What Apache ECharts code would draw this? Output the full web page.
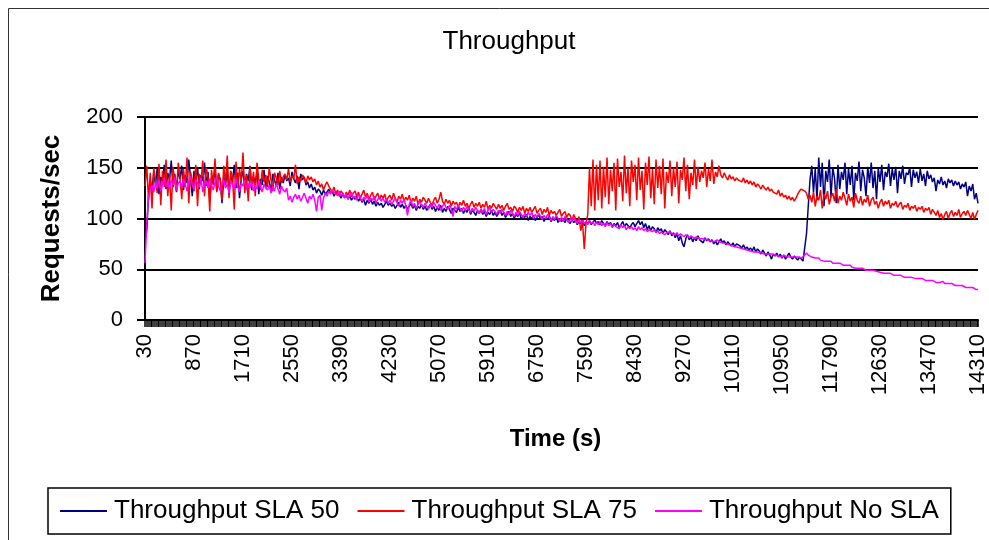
<!DOCTYPE html>
<html><head><meta charset="utf-8">
<script src="https://cdn.jsdelivr.net/npm/echarts@6/dist/echarts.min.js"></script>
<style>html,body{margin:0;padding:0;background:#fff}#c{width:989px;height:540px}</style>
</head><body><div id="c"></div>
<script>
const startTime = 30, stepTime = 30;
const seriesNames = ['Throughput SLA 50','Throughput SLA 75','Throughput No SLA'];
const yTicks = [0,50,100,150,200];

const sla50 = [
80,88,122,138,127,146,133,150,124,141,136,153,129,145,138,157,131,144,126,148,
139,152,128,143,135,158,141,122,147,136,151,129,143,137,155,132,146,118,140,134,
150,127,144,138,115,141,133,149,126,142,136,153,130,145,120,139,147,131,144,137,
152,128,141,135,146,124,139,133,148,130,142,136,127,144,138,132,145,129,141,135,
143,137,140,132,146,139,135,142,129,144,138,141,133,136,130,134,128,131,125,129,
127,123,128,124,126,129,125,127,122,126,123,125,120,124,121,123,119,122,118,121,
119,122,117,120,116,119,113,118,115,119,114,117,112,116,113,115,111,114,117,113,
115,112,114,110,113,116,111,114,110,113,109,112,115,110,113,108,112,110,114,109,
112,108,111,114,109,112,107,111,108,113,106,110,107,112,109,105,110,108,106,111,
107,110,105,109,106,111,104,108,106,103,108,105,109,104,107,102,106,104,108,103,
106,102,105,108,103,106,101,104,107,102,105,100,104,102,106,99,103,101,104,98,
102,100,103,98,101,104,99,102,97,101,99,103,97,100,98,102,96,100,97,99,
96,100,97,95,99,96,98,94,97,95,99,93,97,95,98,94,96,99,95,97,
94,98,95,93,97,94,96,92,95,93,96,91,94,97,92,95,93,91,94,96,
92,95,98,94,97,91,95,89,93,88,92,90,86,91,88,90,85,89,87,84,
88,83,86,81,85,78,83,76,72,80,84,79,82,77,81,78,83,79,80,76,
81,78,80,77,79,75,78,74,77,80,76,78,74,77,75,73,76,72,75,74,
73,71,74,70,72,69,71,68,72,67,70,68,65,69,66,63,67,64,60,65,
63,66,62,65,61,64,60,63,66,62,60,63,61,59,62,60,58,58,85,112,
138,152,126,149,118,160,131,155,112,147,136,158,121,150,140,115,153,129,146,138,
155,124,149,133,152,118,145,137,156,127,148,140,122,151,135,155,130,147,119,150,
136,153,128,146,141,154,132,149,138,151,125,147,139,152,134,145,143,150,131,148,
140,146,135,149,137,144,132,147,139,143,136,140,127,138,134,141,133,137,130,139,
135,138,132,137,133,136,129,134,131,136,122,132,127,134,119,125,115
];

const sla75 = [
132,152,118,145,110,150,137,125,154,113,147,131,158,122,143,108,151,136,127,155,
140,119,149,131,160,115,146,138,127,153,112,144,135,157,122,150,141,107,148,133,
159,126,145,138,118,152,134,162,120,147,141,109,156,130,149,137,165,125,143,117,
151,133,146,122,155,139,128,148,136,143,131,150,138,127,145,140,133,147,135,141,
144,138,149,136,142,139,153,134,141,137,143,140,135,142,138,141,136,139,133,137,
131,134,128,133,136,132,129,126,131,124,128,122,127,125,120,126,123,128,121,125,
127,122,126,120,124,128,121,125,119,123,126,118,122,125,119,123,120,124,117,121,
123,118,125,120,116,122,119,124,117,121,118,123,115,120,117,122,114,119,116,121,
118,115,120,116,113,118,121,115,119,126,117,114,119,115,118,112,117,114,116,111,
116,113,118,112,115,110,114,117,111,115,112,116,110,114,111,117,109,113,110,115,
112,109,114,110,113,108,112,115,109,111,107,112,110,106,111,108,112,105,110,107,
111,106,109,112,105,108,110,104,109,106,111,103,108,105,107,103,106,109,102,105,
107,101,105,103,98,104,100,96,102,88,97,70,95,104,150,112,158,108,153,118,
157,110,151,121,160,114,148,127,155,108,159,131,146,117,162,125,150,112,157,136,
153,118,160,128,147,109,155,133,161,120,149,114,158,130,152,124,159,110,146,135,
157,122,150,131,156,115,148,138,160,127,153,119,145,133,158,129,151,136,147,140,
155,131,149,137,158,134,146,141,152,143,140,145,141,138,143,139,141,137,140,138,
139,136,140,135,138,134,137,133,136,131,134,132,129,133,130,128,131,127,129,126,
127,124,128,122,125,121,123,119,122,118,121,117,120,124,127,129,128,127,125,119,
123,116,126,112,122,118,128,110,124,119,127,114,121,125,117,129,115,122,118,126,
120,113,124,117,121,111,125,118,115,122,113,119,116,123,112,118,121,114,117,110,
116,119,112,117,114,118,110,115,113,117,111,114,116,109,113,111,115,108,112,110,
113,107,111,109,112,106,110,108,111,104,109,106,103,108,101,105,99,104,107,100,
105,108,102,106,103,109,101,105,107,103,108,104,100,106,99,104,108
];

const noSla = [
56,96,121,128,133,126,135,130,138,127,134,140,131,136,129,138,133,141,128,135,
137,130,139,134,127,136,142,133,129,138,135,131,140,126,134,137,130,139,133,128,
136,141,132,127,135,138,130,134,125,137,133,129,139,131,126,135,132,138,128,134,
130,136,127,133,129,137,131,126,134,130,128,133,125,131,127,135,129,124,132,128,
126,130,118,122,116,121,124,119,123,117,121,125,120,115,122,119,124,118,107,121,
123,108,120,125,122,127,124,128,125,126,123,127,122,125,121,124,119,123,126,120,
122,118,124,120,117,121,119,123,116,120,118,122,115,119,121,117,120,116,119,115,
118,114,117,120,116,112,118,115,119,113,103,114,118,112,115,110,114,117,113,111,
115,112,109,114,111,116,113,110,114,108,112,115,111,109,113,110,102,112,109,113,
110,107,111,108,112,109,106,110,107,111,108,105,109,106,110,104,108,111,106,109,
107,104,108,105,109,106,103,107,104,108,105,102,106,103,107,104,101,105,102,106,
103,106,100,104,101,105,102,99,103,100,104,101,98,102,99,103,100,97,101,98,
102,99,96,100,97,101,98,95,99,96,98,95,97,94,98,95,97,93,96,94,
97,93,95,92,96,93,95,91,94,92,93,90,94,91,93,89,92,90,92,89,
91,88,92,89,91,88,90,87,89,88,87,89,86,88,85,87,86,84,86,85,
87,85,86,84,86,83,85,84,82,84,83,81,83,82,80,82,81,80,81,80,
80,79,80,78,79,77,78,79,77,78,76,77,75,76,74,75,73,74,72,73,
71,72,70,71,69,70,68,69,67,68,67,68,66,67,65,66,65,64,65,64,
64,65,63,64,62,64,63,62,63,62,61,62,61,62,63,61,62,64,66,64,
63,62,63,61,60,61,59,60,58,59,58,57,58,56,57,56,55,56,55,54,
55,54,53,54,52,53,51,52,51,50,51,50,49,50,49,48,49,48,48,47,
47,48,46,47,46,45,46,45,44,45,44,43,44,43,42,43,42,41,42,41,
41,42,41,40,41,40,39,40,39,38,39,38,37,38,37,37,38,36,37,36,
35,36,35,34,35,34,33,34,33,32,33,32,31,32,31,30,30
];

const times = [];
for (let i = 0; i < sla50.length; i++) times.push(String(startTime + i * stepTime));

const FONT = '"Liberation Sans", Arial, sans-serif';
const chart = echarts.init(document.getElementById('c'), null, {renderer: 'canvas'});
chart.setOption({
  animation: false,
  backgroundColor: '#fff',
  title: {
    text: 'Throughput', left: 504, top: 24, textAlign: 'center',
    textStyle: {fontFamily: FONT, fontSize: 26, fontWeight: 'normal', color: '#000'}
  },
  graphic: [{
    type: 'rect', shape: {x: 8.5, y: 8.5, width: 1000, height: 600},
    style: {fill: null, stroke: '#333', lineWidth: 1}, silent: true
  }],
  legend: {
    data: seriesNames, left: 48, top: 488,
    orient: 'horizontal', icon: 'rect', itemWidth: 47, itemHeight: 2, itemGap: 18,
    borderColor: '#000', borderWidth: 1.5, padding: [10, 12, 10, 12],
    textStyle: {fontFamily: FONT, fontSize: 26, color: '#000', padding: [0,0,0,2]}
  },
  grid: {left: 145, right: 9, top: 117, bottom: 220, containLabel: false},
  xAxis: {
    type: 'category', data: times, boundaryGap: false,
    name: 'Time (s)', nameLocation: 'middle', nameGap: 107,
    nameTextStyle: {fontFamily: FONT, fontSize: 24, fontWeight: 'bold', color: '#000', padding: [0, 12, 0, 0]},
    axisLine: {lineStyle: {color: '#000', width: 2}},
    axisTick: {show: true, interval: 0, length: 7, lineStyle: {color: '#000', width: 1.5}},
    axisLabel: {interval: 27, rotate: 90, fontFamily: FONT, fontSize: 22, color: '#000', margin: 14},
    splitLine: {show: false}
  },
  yAxis: {
    type: 'value', min: yTicks[0], max: yTicks[yTicks.length - 1], interval: 50,
    name: 'Requests/sec', nameLocation: 'middle', nameGap: 80, nameRotate: 90,
    nameTextStyle: {fontFamily: FONT, fontSize: 26, fontWeight: 'bold', color: '#000'},
    axisLine: {show: true, lineStyle: {color: '#000', width: 2}},
    axisTick: {show: true, length: 8, lineStyle: {color: '#000', width: 2}},
    axisLabel: {fontFamily: FONT, fontSize: 22, color: '#000', margin: 22},
    splitLine: {show: true, lineStyle: {color: '#000', width: 2}}
  },
  series: [
    {name: seriesNames[0], type: 'line', data: sla50, showSymbol: false, color: '#000080', lineStyle: {width: 1.5}},
    {name: seriesNames[1], type: 'line', data: sla75, showSymbol: false, color: '#ff0000', lineStyle: {width: 1.5}},
    {name: seriesNames[2], type: 'line', data: noSla, showSymbol: false, color: '#ff00ff', lineStyle: {width: 1.5}}
  ]
});
</script></body></html>
